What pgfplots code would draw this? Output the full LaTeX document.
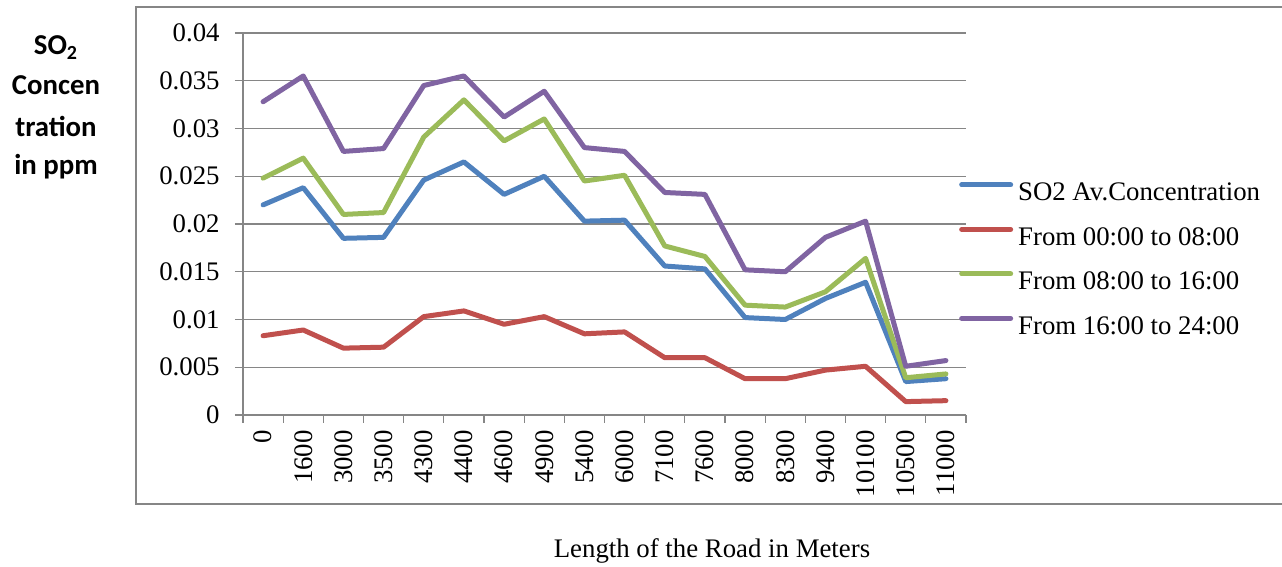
\documentclass[border=0pt]{standalone}
\usepackage{pgfplots}
\pgfplotsset{compat=1.18}
\usepackage{fontspec}
\setmainfont{Liberation Serif}
\newfontfamily\carlito{Carlito}

\definecolor{sblue}{HTML}{4F81BD}
\definecolor{sred}{HTML}{C0504D}
\definecolor{sgreen}{HTML}{9BBB59}
\definecolor{spurple}{HTML}{8064A2}
\definecolor{gridgray}{HTML}{868686}

\newcommand{\chartfont}{\fontsize{13.4}{16}\selectfont}
\newcommand{\ylabfont}{\carlito\bfseries\fontsize{14.4}{18}\selectfont}

\begin{document}
\begin{tikzpicture}[x=1pt,y=1pt]
\path[use as bounding box] (0,0) rectangle (641,283.5);
% chart area frame (open on the right)
\draw[gridgray, line width=0.6pt] (660,280) -- (68,280) -- (68,31.5) -- (660,31.5);

% vertical axis title, one line per node
\node[anchor=base, font=\ylabfont] at (28,256) {SO\textsubscript{2}};
\node[anchor=base, font=\ylabfont] at (28,236) {Concen};
\node[anchor=base, font=\ylabfont] at (28,215) {tration};
\node[anchor=base, font=\ylabfont] at (28,196) {in ppm};

% horizontal axis title
\node[anchor=base, font=\chartfont] at (356,4.5) {Length of the Road in Meters};

\begin{axis}[
  at={(121.5pt,76pt)}, anchor=south west,
  scale only axis, width=361.5pt, height=191pt,
  xmin=-0.5, xmax=17.5, ymin=0, ymax=0.04,
  axis x line=bottom, axis y line=left,
  axis line style={-, gridgray, line width=0.6pt},
  tick align=outside,
  major tick length=4pt, minor tick length=4pt,
  xtick={0,...,17},
  xticklabels={0,1600,3000,3500,4300,4400,4600,4900,5400,6000,7100,7600,8000,8300,9400,10100,10500,11000},
  minor xtick={-0.5,0.5,...,17.5},
  major x tick style={draw=none},
  minor x tick style={gridgray, line width=0.6pt},
  ytick={0,0.005,0.01,0.015,0.02,0.025,0.03,0.035,0.04},
  yticklabels={0,0.005,0.01,0.015,0.02,0.025,0.03,0.035,0.04},
  scaled y ticks=false,
  y tick style={gridgray, line width=0.6pt},
  ymajorgrids=true,
  y grid style={gridgray, line width=0.6pt},
  tick label style={font=\chartfont},
  xticklabel shift=3.5pt,
  xticklabel style={rotate=90, anchor=east, inner sep=0pt},
  yticklabel style={anchor=east, inner sep=0pt, xshift=-7.5pt},
  clip=false,
  legend cell align=left,
  legend style={at={(0.99,0.61)}, anchor=north west, draw=none, fill=none,
    inner sep=0pt, row sep=10pt, column sep=2.5pt, font=\chartfont,
    nodes={inner sep=0pt, text height=9pt, text depth=3pt}},
  legend image code/.code={\draw[#1] (1.25pt,5pt) -- (25.75pt,5pt);},
  every axis plot/.append style={line width=2.5pt, line cap=round, line join=round, mark=none},
]
\addplot[sblue] coordinates {
(0,0.0220) (1,0.0238) (2,0.0185) (3,0.0186) (4,0.0246) (5,0.0265)
(6,0.0231) (7,0.0250) (8,0.0203) (9,0.0204) (10,0.0156) (11,0.0153)
(12,0.0102) (13,0.0100) (14,0.0122) (15,0.0139) (16,0.0035) (17,0.0038)};
\addlegendentry{SO2 Av.Concentration}
\addplot[sred] coordinates {
(0,0.0083) (1,0.0089) (2,0.0070) (3,0.0071) (4,0.0103) (5,0.0109)
(6,0.0095) (7,0.0103) (8,0.0085) (9,0.0087) (10,0.0060) (11,0.0060)
(12,0.0038) (13,0.0038) (14,0.0047) (15,0.0051) (16,0.0014) (17,0.0015)};
\addlegendentry{From 00:00 to 08:00}
\addplot[sgreen] coordinates {
(0,0.0248) (1,0.0269) (2,0.0210) (3,0.0212) (4,0.0291) (5,0.0330)
(6,0.0287) (7,0.0310) (8,0.0245) (9,0.0251) (10,0.0177) (11,0.0166)
(12,0.0115) (13,0.0113) (14,0.0129) (15,0.0164) (16,0.0039) (17,0.0043)};
\addlegendentry{From 08:00 to 16:00}
\addplot[spurple] coordinates {
(0,0.0328) (1,0.0355) (2,0.0276) (3,0.0279) (4,0.0345) (5,0.0355)
(6,0.0312) (7,0.0339) (8,0.0280) (9,0.0276) (10,0.0233) (11,0.0231)
(12,0.0152) (13,0.0150) (14,0.0186) (15,0.0203) (16,0.0051) (17,0.0057)};
\addlegendentry{From 16:00 to 24:00}
\end{axis}
\end{tikzpicture}
\end{document}
